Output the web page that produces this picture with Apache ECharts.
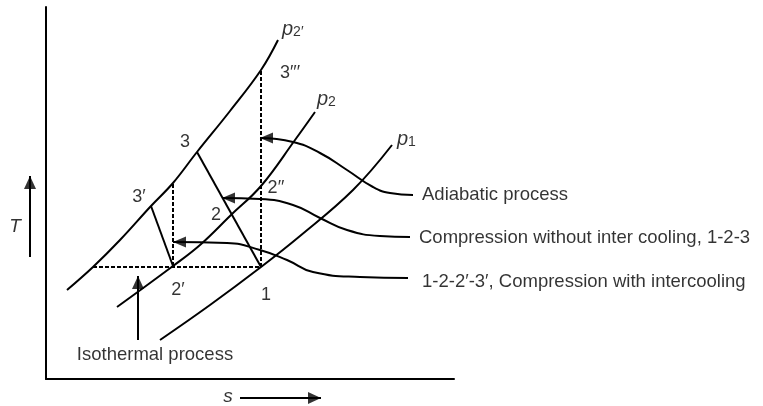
<!DOCTYPE html>
<html><head><meta charset="utf-8">
<script src="https://cdn.jsdelivr.net/npm/echarts@6/dist/echarts.min.js"></script>
<style>html,body{margin:0;padding:0;background:#fff}#c{width:763px;height:406px}</style>
</head><body><div id="c"></div>
<script>
// Units: s (entropy, arbitrary) on x, T (temperature, arbitrary) on y
const isobarP2p = [[21,89],[47,112],[74,139],[105,173],[127,196],[151,227],[184,268],[215,309],[232,339]];
const isobarP2  = [[71,72],[127,113],[154,134],[185,164],[215,193],[249,239],[269,267]];
const isobarP1  = [[114,39],[164,74],[215,112],[254,143],[307,189],[346,234]];
const proc1_2_3   = [[151,227],[215,112]];
const proc3p_2p   = [[105,173],[127,113]];
const dash2p_3p   = [[127,113],[127,196]];
const dash1_3ppp  = [[215,112],[215,309]];
const dashIso     = [[47,112],[215,112]];
const leaderAdiab = [[214,241],[247,237],[274,226],[301,209],[327,192],[344,186],[367,184]];
const leaderNoIC  = [[176,181],[214,180],[247,174],[274,161],[301,149],[334,143],[364,142]];
const leaderIC    = [[127,137],[181,136],[214,129],[241,119],[267,107],[314,102],[362,101]];
const isoArrow    = [[92,39],[92,103]];
const tArrow      = [[-16,122],[-16,203]];
const sArrow      = [[194,-19],[275,-19]];
const leftHeads   = [[214,241],[176,181],[127,137]];
const upHeads     = [[92,103],[-16,203]];
const rightHeads  = [[275,-19]];
const pointLabels = ['3','3′','2′′','2','2′','1','3′′′'];
const pointLabelPos = [[139,237],[93,182],[230,191],[170,164],[132,89],[220,84],[244,306]];
const isobarLabels = ['2′','2','1'];
const isobarLabelPos = [[236,350],[271,280],[351,240]];
const noteTexts = ['Adiabatic process','Compression without inter cooling, 1-2-3','1-2-2′-3′, Compression with intercooling','Isothermal process'];
const notePos = [[376,184],[373,141],[376,97],[109,24]];
const axisNames = ['T','s'];
const axisNamePos = [[-31,152],[182,-18]];

const FONT = 'Liberation Sans, Arial, Helvetica, sans-serif';
const FS = 18.5;
const black = '#000';
function line(data, opts) {
  return Object.assign({type:'line', data, symbol:'none', silent:true, clip:false,
    lineStyle:{color:black, width:2}}, opts||{});
}
function heads(data, path, size, offset) {
  return {type:'scatter', data, symbol:path, symbolSize:size, symbolOffset:offset, clip:false, silent:true,
    itemStyle:{color:black}};
}
const series = [
  line(isobarP2p, {smooth:0.4}),
  line(isobarP2, {smooth:0.4}),
  line(isobarP1, {smooth:0.4}),
  line(proc1_2_3), line(proc3p_2p),
  line(dash2p_3p, {lineStyle:{color:black,width:2,type:[4,2]}}),
  line(dash1_3ppp, {lineStyle:{color:black,width:2,type:[4,2]}}),
  line(dashIso, {lineStyle:{color:black,width:2,type:[4,2]}}),
  line(leaderAdiab, {smooth:0.5}),
  line(leaderNoIC, {smooth:0.5}),
  line(leaderIC, {smooth:0.5}),
  {type:'lines', coordinateSystem:'cartesian2d', clip:false, silent:true,
    lineStyle:{color:black, width:2, opacity:1},
    data:[{coords:isoArrow},{coords:tArrow},{coords:sArrow}]},
  heads(leftHeads, 'path://M0,6L13,0L13,12Z', [13,11], [6.5,0]),
  heads(upHeads, 'path://M6,0L12,13L0,13Z', [12,13], [0,6.5]),
  heads(rightHeads, 'path://M13,6L0,0L0,12Z', [13,12], [-6.5,0]),
  {type:'scatter', symbolSize:0, clip:false, silent:true,
    data: pointLabels.map((t,i)=>({value:pointLabelPos[i], name:t})),
    label:{show:true, position:'inside', formatter:p=>p.name, color:black, fontSize:18, fontFamily:FONT}},
  {type:'scatter', symbolSize:0, clip:false, silent:true,
    data: isobarLabels.map((t,i)=>({value:isobarLabelPos[i], name:t})),
    label:{show:true, position:'right', distance:0, formatter:p=>'{p|p}{s|'+p.name+'}', color:black,
      rich:{p:{fontSize:20, fontStyle:'italic', fontFamily:FONT, color:black, lineHeight:20},
            s:{fontSize:14, fontFamily:FONT, color:black, lineHeight:6, verticalAlign:'bottom'}}}},
  {type:'scatter', symbolSize:0, clip:false, silent:true,
    data: noteTexts.map((t,i)=>({value:notePos[i], name:t, label:{position: i===3?'inside':'right'}})),
    label:{show:true, distance:0, formatter:p=>p.name, color:black, fontSize:FS, fontFamily:FONT}},
  {type:'scatter', symbolSize:0, clip:false, silent:true,
    data: axisNames.map((t,i)=>({value:axisNamePos[i], name:t})),
    label:{show:true, position:'inside', formatter:p=>p.name, color:black, fontSize:19, fontStyle:'italic', fontFamily:FONT}}
];
const chart = echarts.init(document.getElementById('c'), null, {renderer:'canvas'});
chart.setOption({
  animation:false,
  grid:{left:46, right:309, top:7, bottom:27, containLabel:false},
  xAxis:{type:'value', min:0, max:408, axisLine:{show:true, onZero:false, lineStyle:{color:black,width:2}},
    axisTick:{show:false}, axisLabel:{show:false}, splitLine:{show:false}},
  yAxis:{type:'value', min:0, max:372, axisLine:{show:true, onZero:false, lineStyle:{color:black,width:2}},
    axisTick:{show:false}, axisLabel:{show:false}, splitLine:{show:false}},
  series
});
</script></body></html>
